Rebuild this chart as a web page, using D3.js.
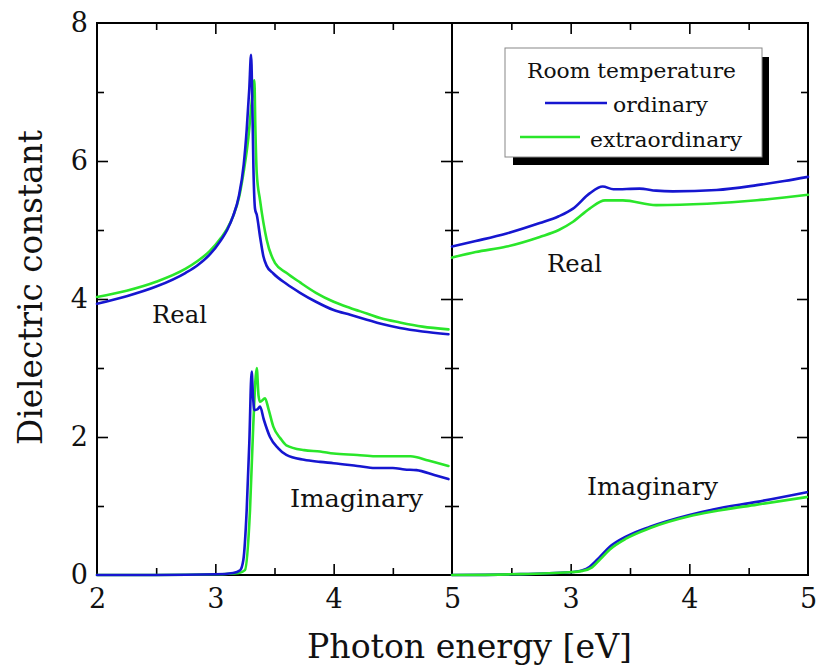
<!DOCTYPE html>
<html>
<head>
<meta charset="utf-8">
<script src="https://cdn.jsdelivr.net/npm/d3@7"></script>
<style>
  html, body { margin: 0; padding: 0; background: #fff; }
  svg { display: block; }
</style>
</head>
<body>
<svg id="chart" width="816" height="668"></svg>
<script>
// ---------- DATA ----------
// Left panel: real part
const leftRealOrdE = [2.0, 2.25, 2.5, 2.75, 2.85, 2.95, 3.05, 3.1, 3.15, 3.2, 3.24, 3.265, 3.287, 3.302, 3.312, 3.322, 3.336, 3.35, 3.38, 3.406, 3.434, 3.49, 3.6, 3.716, 3.85, 4.0, 4.14, 4.28, 4.4, 4.56, 4.75, 4.97];
const leftRealOrdV = [3.93, 4.04, 4.18, 4.38, 4.49, 4.64, 4.86, 5.0, 5.2, 5.5, 5.95, 6.45, 7.05, 7.54, 6.9, 5.9, 5.3, 5.22, 4.88, 4.62, 4.48, 4.37, 4.22, 4.09, 3.96, 3.84, 3.77, 3.70, 3.64, 3.58, 3.53, 3.49];
const leftRealExtE = [2.0, 2.25, 2.5, 2.75, 2.85, 2.95, 3.05, 3.1, 3.15, 3.2, 3.24, 3.28, 3.307, 3.33, 3.338, 3.35, 3.378, 3.434, 3.505, 3.6, 3.716, 3.85, 4.0, 4.14, 4.28, 4.4, 4.56, 4.75, 4.97];
const leftRealExtV = [4.03, 4.12, 4.25, 4.44, 4.55, 4.69, 4.89, 5.02, 5.2, 5.47, 5.85, 6.35, 6.85, 7.17, 6.5, 5.82, 5.43, 4.86, 4.52, 4.38, 4.24, 4.09, 3.96, 3.87, 3.79, 3.72, 3.66, 3.60, 3.56];
// Left panel: imaginary part
const leftImagOrdE = [2.0, 2.5, 3.0, 3.15, 3.21, 3.237, 3.265, 3.287, 3.307, 3.318, 3.33, 3.355, 3.378, 3.41, 3.462, 3.53, 3.6, 3.75, 3.885, 4.0, 4.2, 4.35, 4.5, 4.6, 4.7, 4.85, 4.97];
const leftImagOrdV = [0.0, 0.0, 0.01, 0.03, 0.07, 0.22, 0.94, 1.91, 2.95, 2.6, 2.39, 2.40, 2.44, 2.25, 2.0, 1.84, 1.74, 1.67, 1.64, 1.62, 1.58, 1.55, 1.55, 1.53, 1.52, 1.45, 1.39];
const leftImagExtE = [2.0, 2.5, 3.0, 3.2, 3.25, 3.293, 3.32, 3.35, 3.365, 3.378, 3.42, 3.45, 3.49, 3.55, 3.6, 3.75, 3.885, 4.0, 4.2, 4.35, 4.5, 4.65, 4.8, 4.97];
const leftImagExtV = [0.0, 0.0, 0.01, 0.03, 0.07, 0.94, 2.15, 3.0, 2.6, 2.51, 2.56, 2.4, 2.15, 1.98, 1.88, 1.81, 1.79, 1.76, 1.74, 1.72, 1.72, 1.72, 1.66, 1.58];
// Right panel: real part
const rightRealOrdE = [2.0, 2.2, 2.46, 2.74, 2.9, 3.02, 3.16, 3.27, 3.36, 3.58, 3.72, 3.86, 4.23, 4.57, 4.8, 5.0];
const rightRealOrdV = [4.76, 4.84, 4.95, 5.10, 5.20, 5.31, 5.53, 5.63, 5.59, 5.60, 5.57, 5.56, 5.58, 5.65, 5.71, 5.77];
const rightRealExtE = [2.0, 2.2, 2.46, 2.74, 2.9, 3.02, 3.16, 3.29, 3.44, 3.72, 4.15, 4.57, 4.8, 5.0];
const rightRealExtV = [4.60, 4.68, 4.76, 4.90, 5.00, 5.12, 5.31, 5.43, 5.43, 5.36, 5.38, 5.43, 5.47, 5.51];
// Right panel: imaginary part
const rightImagOrdE = [2.0, 2.5, 2.99, 3.1, 3.16, 3.25, 3.33, 3.47, 3.67, 4.0, 4.2, 4.57, 4.99];
const rightImagOrdV = [0.0, 0.01, 0.04, 0.07, 0.12, 0.27, 0.41, 0.56, 0.70, 0.87, 0.95, 1.06, 1.20];
const rightImagExtE = [2.0, 2.5, 2.99, 3.1, 3.18, 3.25, 3.33, 3.47, 3.67, 4.0, 4.2, 4.57, 4.99];
const rightImagExtV = [0.0, 0.01, 0.04, 0.06, 0.11, 0.23, 0.37, 0.53, 0.68, 0.85, 0.92, 1.02, 1.13];

const xDomain = [2, 5];
const yDomain = [0, 8];
const leftXTickLabels = [2, 3, 4, 5];
const rightXTickLabels = [3, 4, 5];
const xMinorTicks = [2.5, 3.5, 4.5];
const xMajorTicks = [3, 4];
const yMajorTicks = [0, 2, 4, 6, 8];
const yInnerMajorTicks = [2, 4, 6];
const yMinorTicks = [1, 3, 5, 7];

const seriesNames = ["ordinary", "extraordinary"];
const colors = { ordinary: "#1616d0", extraordinary: "#2ae62a" };
const legendTitle = "Room temperature";

// ---------- DRAW ----------
(function () {
const svg = d3.select("#chart");
const FONT = "'DejaVu Serif', 'Liberation Serif', serif";

const pLeft = 97, pMid = 452, pRight = 808, pTop = 23, pBottom = 575;
const xL = d3.scaleLinear().domain(xDomain).range([pLeft, pMid]);
const xR = d3.scaleLinear().domain(xDomain).range([pMid, pRight]);
const y = d3.scaleLinear().domain(yDomain).range([pBottom, pTop]);

const MAJ = 11, MIN = 7;

function styleAxis(g, fontSize) {
  g.select(".domain").remove();
  g.selectAll(".tick line").attr("stroke", "#000").attr("stroke-width", 1.6);
  g.selectAll(".tick text").attr("font-family", FONT).attr("font-size", fontSize).attr("fill", "#111");
}

// bottom & top axes
[[xL, leftXTickLabels], [xR, rightXTickLabels]].forEach(([sc, labs]) => {
  const gLab = svg.append("g").attr("transform", `translate(0,${pBottom})`)
    .call(d3.axisBottom(sc).tickValues(labs).tickSize(0).tickPadding(14).tickFormat(d3.format("d")));
  styleAxis(gLab, 27);
  const gMaj = svg.append("g").attr("transform", `translate(0,${pBottom})`)
    .call(d3.axisBottom(sc).tickValues(xMajorTicks).tickSize(-MAJ).tickFormat(""));
  styleAxis(gMaj, 27);
  const gMin = svg.append("g").attr("transform", `translate(0,${pBottom})`)
    .call(d3.axisBottom(sc).tickValues(xMinorTicks).tickSize(-MIN).tickFormat(""));
  styleAxis(gMin, 27);
  const tMaj = svg.append("g").attr("transform", `translate(0,${pTop})`)
    .call(d3.axisTop(sc).tickValues(xMajorTicks).tickSize(-MAJ).tickFormat(""));
  styleAxis(tMaj, 27);
  const tMin = svg.append("g").attr("transform", `translate(0,${pTop})`)
    .call(d3.axisTop(sc).tickValues(xMinorTicks).tickSize(-MIN).tickFormat(""));
  styleAxis(tMin, 27);
});

// y axes
const yl = svg.append("g").attr("transform", `translate(${pLeft},0)`)
  .call(d3.axisLeft(y).tickValues(yMajorTicks).tickSize(0).tickPadding(9).tickFormat(d3.format("d")));
styleAxis(yl, 27);
const ylMaj = svg.append("g").attr("transform", `translate(${pLeft},0)`)
  .call(d3.axisLeft(y).tickValues(yInnerMajorTicks).tickSize(-MAJ).tickFormat(""));
styleAxis(ylMaj, 27);
const ylm = svg.append("g").attr("transform", `translate(${pLeft},0)`)
  .call(d3.axisLeft(y).tickValues(yMinorTicks).tickSize(-MIN).tickFormat(""));
styleAxis(ylm, 27);

[[pMid, d3.axisRight], [pMid, d3.axisLeft], [pRight, d3.axisRight]].forEach(([xp, ax]) => {
  const g1 = svg.append("g").attr("transform", `translate(${xp},0)`)
    .call(ax(y).tickValues(yInnerMajorTicks).tickSize(-MAJ).tickFormat(""));
  styleAxis(g1, 27);
  const g2 = svg.append("g").attr("transform", `translate(${xp},0)`)
    .call(ax(y).tickValues(yMinorTicks).tickSize(-MIN).tickFormat(""));
  styleAxis(g2, 27);
});

// frame
svg.append("rect").attr("x", pLeft).attr("y", pTop).attr("width", pRight - pLeft).attr("height", pBottom - pTop)
  .attr("fill", "none").attr("stroke", "#000").attr("stroke-width", 2);
svg.append("line").attr("x1", pMid).attr("x2", pMid).attr("y1", pTop).attr("y2", pBottom)
  .attr("stroke", "#000").attr("stroke-width", 2);

// curves
function drawSeries(xs, E, V, color) {
  const pts = E.map((e, i) => [e, V[i]]);
  const line = d3.line().x(d => xs(d[0])).y(d => y(d[1])).curve(d3.curveMonotoneX);
  svg.append("path").datum(pts).attr("d", line)
    .attr("fill", "none").attr("stroke", color).attr("stroke-width", 2.6)
    .attr("stroke-linejoin", "round").attr("stroke-linecap", "round");
}
drawSeries(xL, leftRealExtE, leftRealExtV, colors.extraordinary);
drawSeries(xL, leftRealOrdE, leftRealOrdV, colors.ordinary);
drawSeries(xL, leftImagExtE, leftImagExtV, colors.extraordinary);
drawSeries(xL, leftImagOrdE, leftImagOrdV, colors.ordinary);
drawSeries(xR, rightRealOrdE, rightRealOrdV, colors.ordinary);
drawSeries(xR, rightRealExtE, rightRealExtV, colors.extraordinary);
drawSeries(xR, rightImagOrdE, rightImagOrdV, colors.ordinary);
drawSeries(xR, rightImagExtE, rightImagExtV, colors.extraordinary);

// panel labels
function label(txt, x, yb, size, len) {
  svg.append("text").text(txt).attr("x", x).attr("y", yb)
    .attr("font-family", FONT).attr("font-size", size).attr("fill", "#111")
    .attr("textLength", len).attr("lengthAdjust", "spacingAndGlyphs");
}
label("Real", 152, 323, 25, 55);
label("Imaginary", 290, 507, 25, 133);
label("Real", 547, 272, 25, 55);
label("Imaginary", 587, 495, 25, 131);

// axis titles
svg.append("text").text("Photon energy [eV]")
  .attr("x", 469.5).attr("y", 658).attr("text-anchor", "middle")
  .attr("font-family", FONT).attr("font-size", 34).attr("fill", "#111")
  .attr("textLength", 325).attr("lengthAdjust", "spacingAndGlyphs");
svg.append("text").text("Dielectric constant")
  .attr("transform", "translate(42,287.5) rotate(-90)").attr("text-anchor", "middle")
  .attr("font-family", FONT).attr("font-size", 34).attr("fill", "#111")
  .attr("textLength", 315).attr("lengthAdjust", "spacingAndGlyphs");

// legend
const lg = svg.append("g");
lg.append("rect").attr("x", 513).attr("y", 57).attr("width", 256).attr("height", 108).attr("fill", "#000");
lg.append("rect").attr("x", 505).attr("y", 48).attr("width", 257).attr("height", 109)
  .attr("fill", "#fff").attr("stroke", "#888").attr("stroke-width", 1);
lg.append("text").text(legendTitle).attr("x", 527).attr("y", 78)
  .attr("font-family", FONT).attr("font-size", 21).attr("fill", "#111")
  .attr("textLength", 209).attr("lengthAdjust", "spacingAndGlyphs");
const legendRows = [
  { name: seriesNames[0], x1: 545, x2: 607, ly: 103, tx: 613, ty: 112, len: 95 },
  { name: seriesNames[1], x1: 520, x2: 580, ly: 137, tx: 590, ty: 147, len: 152 }
];
legendRows.forEach(r => {
  lg.append("line").attr("x1", r.x1).attr("x2", r.x2).attr("y1", r.ly).attr("y2", r.ly)
    .attr("stroke", colors[r.name]).attr("stroke-width", 2.6);
  lg.append("text").text(r.name).attr("x", r.tx).attr("y", r.ty)
    .attr("font-family", FONT).attr("font-size", 21).attr("fill", "#111")
    .attr("textLength", r.len).attr("lengthAdjust", "spacingAndGlyphs");
});
})();
</script>
</body>
</html>
